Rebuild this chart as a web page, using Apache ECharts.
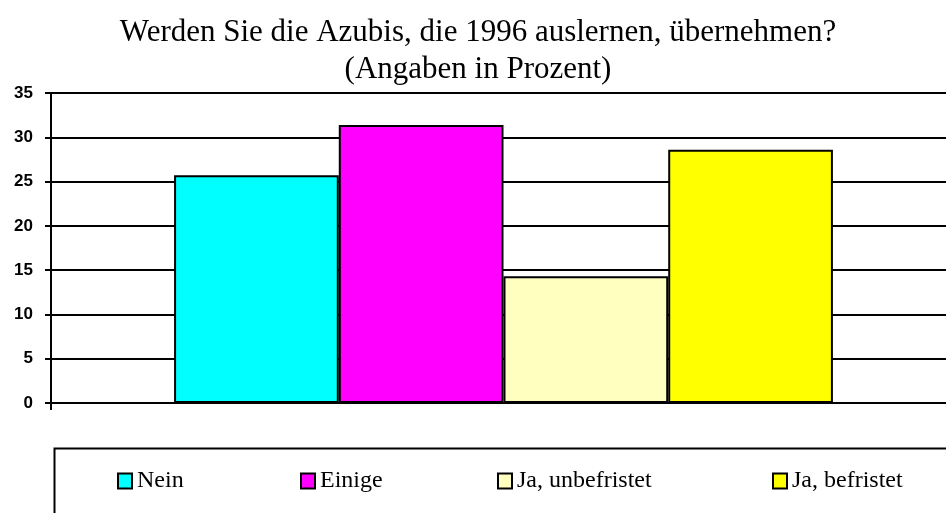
<!DOCTYPE html>
<html>
<head>
<meta charset="utf-8">
<script src="https://cdn.jsdelivr.net/npm/echarts@6/dist/echarts.min.js"></script>
<style>
  html, body { margin: 0; padding: 0; background: #fff; overflow: hidden; }
  /* etwas breiter als das Fenster: die Zeichenfläche läuft rechts aus dem Bild */
  #chart { width: 956px; height: 513px; }
</style>
</head>
<body>
<div id="chart"></div>
<script>
// Daten
const seriesNames = ["Nein", "Einige", "Ja, unbefristet", "Ja, befristet"];
const seriesValues = [25.7, 31.4, 14.3, 28.6];
const seriesColors = ["#00ffff", "#ff00ff", "#ffffc0", "#ffff00"];
const yTicks = [0, 5, 10, 15, 20, 25, 30, 35];
// Legendenposition (x) je Eintrag
const legendLeft = [112, 295, 492, 767];

const chart = echarts.init(document.getElementById("chart"));

const series = seriesNames.map((name, i) => ({
  name: name,
  type: "bar",
  data: [seriesValues[i]],
  barGap: "0%",
  barCategoryGap: "27.2%",
  itemStyle: {
    color: seriesColors[i],
    borderColor: "#000",
    borderWidth: 2,
  },
}));

const legends = seriesNames.map((name, i) => ({
  data: [{ name: name, icon: "rect" }],
  left: legendLeft[i],
  top: 464,
  padding: 5,
  itemWidth: 14,
  itemHeight: 15,
  itemGap: 0,
  textStyle: {
    fontFamily: "Liberation Serif",
    fontSize: 24,
    color: "#000",
  },
}));

const option = {
  animation: false,
  backgroundColor: "#fff",
  title: {
    text: "Werden Sie die Azubis, die 1996 auslernen, übernehmen?\n(Angaben in Prozent)",
    left: "center",
    top: 9,
    textStyle: {
      fontFamily: "Liberation Serif",
      fontSize: 31,
      fontWeight: "normal",
      lineHeight: 37,
      color: "#000",
    },
  },
  legend: legends,
  grid: {
    left: 51,
    right: 0,
    top: 93,
    bottom: 110,
  },
  xAxis: {
    type: "category",
    data: [""],
    axisLine: { lineStyle: { color: "#000", width: 2 } },
    axisTick: { show: true, length: 7, lineStyle: { color: "#000", width: 2 } },
    axisLabel: { show: false },
  },
  yAxis: {
    type: "value",
    min: yTicks[0],
    max: yTicks[yTicks.length - 1],
    interval: 5,
    axisLine: { show: true, lineStyle: { color: "#000", width: 2 } },
    axisTick: { show: true, length: 6, lineStyle: { color: "#000", width: 2 } },
    axisLabel: {
      margin: 18,
      fontFamily: "Liberation Sans",
      fontWeight: "bold",
      fontSize: 17,
      color: "#000",
    },
    splitLine: { show: true, lineStyle: { color: "#000", width: 2 } },
  },
  // Rahmen der Legende (nur oben und links sichtbar)
  graphic: [
    {
      type: "rect",
      left: 52,
      top: 446,
      shape: { width: 1000, height: 100 },
      style: { fill: "none", stroke: "#000", lineWidth: 2 },
      silent: true,
    },
  ],
  series: series,
};

chart.setOption(option);
</script>
</body>
</html>
